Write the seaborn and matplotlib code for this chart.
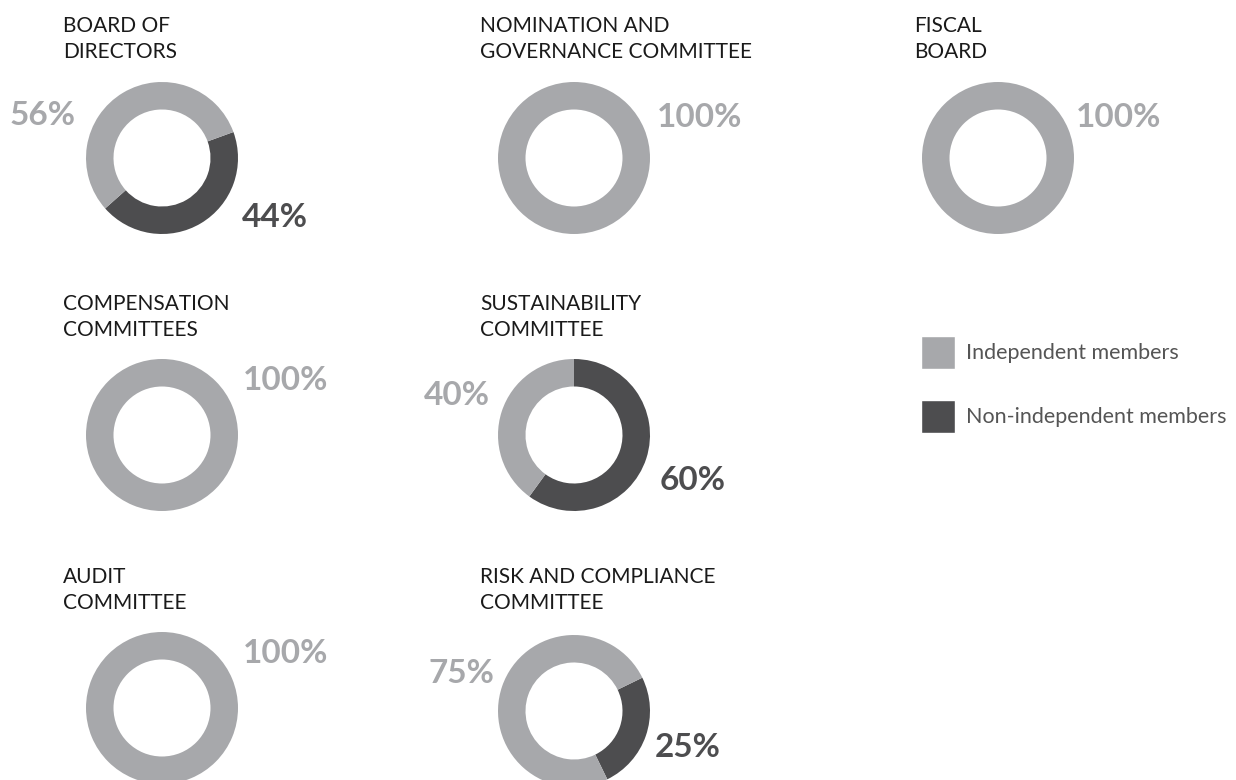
import matplotlib
matplotlib.use("Agg")
import matplotlib.pyplot as plt
import seaborn as sns
from matplotlib.patches import Patch


# ======================================================
# DATA
# ======================================================
committees = [
    "BOARD OF\nDIRECTORS",
    "NOMINATION AND\nGOVERNANCE COMMITTEE",
    "FISCAL\nBOARD",
    "COMPENSATION\nCOMMITTEES",
    "SUSTAINABILITY\nCOMMITTEE",
    "AUDIT\nCOMMITTEE",
    "RISK AND COMPLIANCE\nCOMMITTEE",
]
independent = [56, 100, 100, 100, 40, 100, 75]
non_independent = [44, 0, 0, 0, 60, 0, 25]
legend_labels = ["Independent members", "Non-independent members"]


# ======================================================
# LAYOUT (pixel coords, y measured from top)
# ======================================================
W, H = 1236, 780
GREY = "#A7A8AB"
DARK = "#4D4D4F"
TITLE_COLOR = "#1A1A1A"

R_OUT = 76
RING = 27.5

# donut centre, title left, title first baseline
centers = [(162, 158), (574, 158), (998, 158),
           (162, 435), (574, 435),
           (162, 708), (574, 711)]
title_pos = [(63, 32), (480, 32), (914, 32),
             (63, 310), (480, 310),
             (63, 583), (480, 583)]
# start angle for the dark wedge (clockwise)
start_angles = [20, 90, 90, 90, 90, 90, 26]
# label positions: (left, baseline) for independent / non-independent
grey_label_pos = [(10, 125), (657, 127), (1076, 127),
                  (243, 390), (424, 405), (243, 663), (429, 683)]
dark_label_pos = [(242, 227), None, None,
                  None, (660, 490), None, (655, 757)]


def draw_chart():
    sns.set_theme(style="white")
    plt.rcParams["font.family"] = ["Lato", "DejaVu Sans"]
    palette = sns.color_palette([DARK, GREY])

    fig = plt.figure(figsize=(W / 100, H / 100), dpi=100)
    ax = fig.add_axes([0, 0, 1, 1])

    for i, name in enumerate(committees):
        cx, cy = centers[i]
        ax.pie(
            [non_independent[i], independent[i]],
            colors=palette,
            startangle=start_angles[i],
            counterclock=False,
            radius=R_OUT,
            center=(cx, H - cy),
            wedgeprops=dict(width=RING, edgecolor="none", linewidth=0),
        )

        # title, one line at a time
        tx, ty = title_pos[i]
        for j, line in enumerate(name.split("\n")):
            ax.text(tx, H - (ty + j * 26), line, ha="left", va="baseline",
                    fontsize=15, color=TITLE_COLOR)

        # percentage labels
        gx, gy = grey_label_pos[i]
        ax.text(gx, H - gy, f"{independent[i]}%", ha="left", va="baseline",
                fontsize=24, fontweight="bold", color=GREY)
        if dark_label_pos[i] is not None:
            dx, dy = dark_label_pos[i]
            ax.text(dx, H - dy, f"{non_independent[i]}%", ha="left",
                    va="baseline", fontsize=24, fontweight="bold", color=DARK)

    ax.set_xlim(0, W)
    ax.set_ylim(0, H)
    ax.set_aspect("equal")
    ax.axis("off")

    # legend (square handles 34 x 33 px)
    fs_pt = 15.5
    fs = fs_pt * 100 / 72
    hh = (33 / fs - 0.245) / 0.65
    handles = [Patch(facecolor=GREY, label=legend_labels[0]),
               Patch(facecolor=DARK, label=legend_labels[1])]
    leg = fig.legend(
        handles=handles,
        loc="upper left",
        bbox_to_anchor=(921 / W, 1 - 336 / H),
        frameon=False,
        fontsize=fs_pt,
        handlelength=34 / fs,
        handleheight=hh,
        handletextpad=11 / fs,
        labelspacing=31 / fs,
        borderpad=0,
        borderaxespad=0,
    )
    for t in leg.get_texts():
        t.set_color("#555555")

    fig.savefig("out.png", dpi=100)


if __name__ == "__main__":
    draw_chart()
